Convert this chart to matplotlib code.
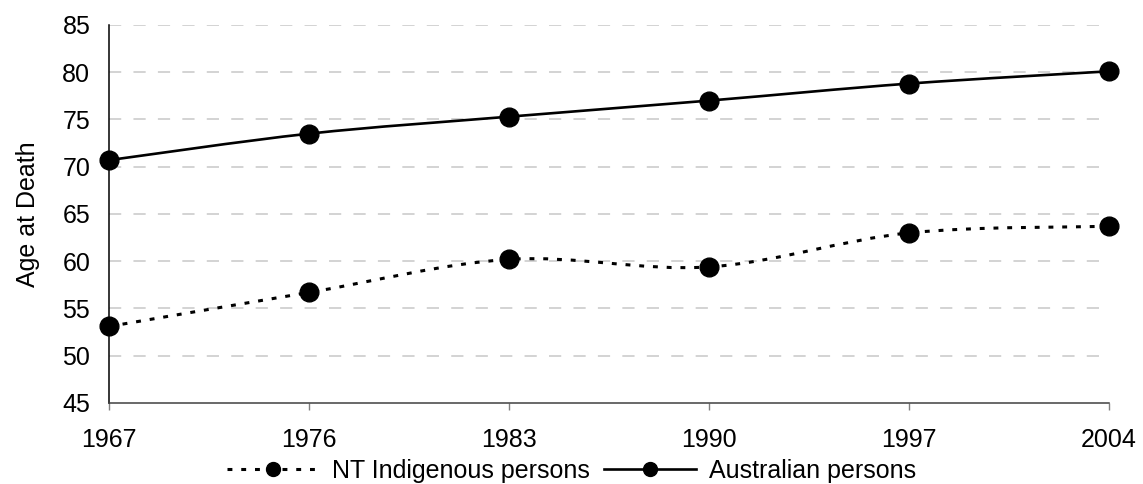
import numpy as np
import matplotlib
matplotlib.use("Agg")
import matplotlib.pyplot as plt
from matplotlib.path import Path
from matplotlib.patches import PathPatch
from matplotlib.lines import Line2D

# Datos ------------------------------
years = ["1967", "1976", "1983", "1990", "1997", "2004"]
nt_indigenous = [53.1, 56.7, 60.2, 59.4, 63.0, 63.7]
australian = [70.7, 73.5, 75.3, 77.0, 78.8, 80.1]


def smooth_path(xs, ys):
    # curva tipo Excel (Bezier con tangentes Catmull-Rom)
    pts = np.column_stack([xs, ys]).astype(float)
    n = len(pts)
    verts = [pts[0]]
    codes = [Path.MOVETO]
    for i in range(n - 1):
        p0 = pts[i - 1] if i > 0 else pts[i]
        p1 = pts[i]
        p2 = pts[i + 1]
        p3 = pts[i + 2] if i + 2 < n else pts[i + 1]
        c1 = p1 + (p2 - p0) / 6
        c2 = p2 - (p3 - p1) / 6
        verts += [c1, c2, p2]
        codes += [Path.CURVE4] * 3
    return Path(verts, codes)


plt.rcParams['font.family'] = ['Liberation Sans', 'DejaVu Sans']
fs = 18

fig = plt.figure(figsize=(11.43, 4.84), dpi=100)
ax = fig.add_axes([109 / 1143, 1 - 403 / 484, 1000 / 1143, 378 / 484])

x = np.arange(len(years))

dots = (0, (1.6, 2.9))
ax.add_patch(PathPatch(smooth_path(x, nt_indigenous), fill=False, color="black",
                       lw=2.2, linestyle=dots, capstyle="butt", zorder=3))
ax.add_patch(PathPatch(smooth_path(x, australian), fill=False, color="black",
                       lw=1.9, zorder=3))
ax.plot(x, nt_indigenous, "o", color="black", ms=13.5, zorder=4, clip_on=False)
ax.plot(x, australian, "o", color="black", ms=13.5, zorder=4, clip_on=False)

ax.set_xlim(0, len(years) - 1)
ax.set_ylim(45, 85)
ax.set_yticks(range(45, 86, 5))
ax.set_xticks(x)
ax.set_xticklabels(years)
ax.tick_params(axis="y", length=0, pad=13.5, labelsize=fs)
ax.tick_params(axis="x", length=5, width=1, color="#808080", pad=13, labelsize=fs)

for y in range(50, 86, 5):
    ax.axhline(y, color="#c8c8c8", lw=1.1, linestyle=(0, (8, 8)), zorder=1)

for s in ["top", "right"]:
    ax.spines[s].set_visible(False)
ax.spines["left"].set_color("black")
ax.spines["bottom"].set_color("#404040")
ax.spines["left"].set_linewidth(1.1)
ax.spines["bottom"].set_linewidth(1.1)

ax.set_ylabel("Age at Death", fontsize=fs, labelpad=16)

handles = [
    Line2D([], [], color="black", lw=2.2, linestyle=dots, marker="o", ms=10),
    Line2D([], [], color="black", lw=1.9, marker="o", ms=10),
]
fig.legend(handles, ["NT Indigenous persons", "Australian persons"],
           loc="center", bbox_to_anchor=(0.5, 1 - 471 / 484), ncol=2,
           frameon=False, fontsize=fs, handlelength=3.7, handletextpad=0.5,
           columnspacing=0.55, borderpad=0)

fig.savefig("out.png", dpi=100)
